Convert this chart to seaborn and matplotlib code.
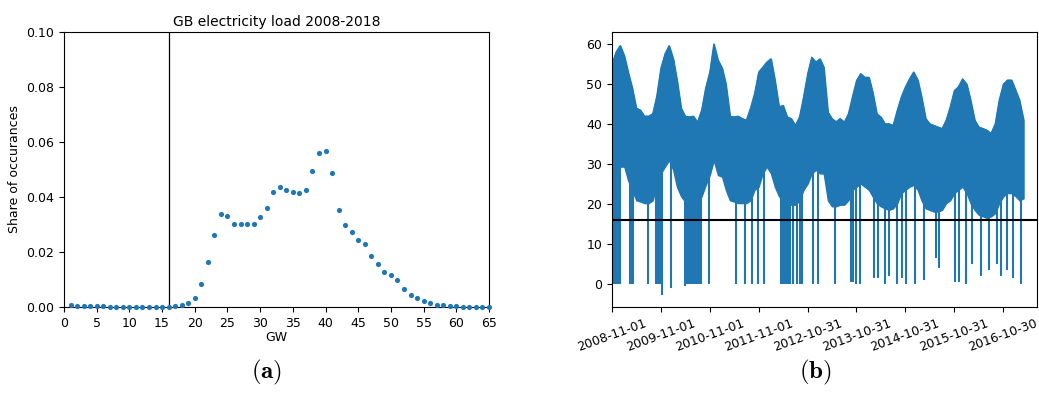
import numpy as np
import pandas as pd
import matplotlib
matplotlib.use("Agg")
import matplotlib.pyplot as plt
import seaborn as sns

# ---------------- Panel (a): distribution of load ----------------
gw = list(range(1, 66))
share = [0.0006, 0.0004, 0.0004, 0.0002, 0.0002, 0.0002, 0.0001, 0.0001, 0.0001, 0.0001,
         0.0001, 0.0001, 0.0001, 0.0001, 0.0001, 0.0001, 0.0004, 0.0006, 0.0013, 0.0034,
         0.0085, 0.0164, 0.0261, 0.0336, 0.0330, 0.0302, 0.0302, 0.0300, 0.0302, 0.0326,
         0.0359, 0.0417, 0.0435, 0.0426, 0.0418, 0.0412, 0.0426, 0.0493, 0.0559, 0.0565,
         0.0485, 0.0351, 0.0297, 0.0271, 0.0244, 0.0229, 0.0186, 0.0156, 0.0127, 0.0116,
         0.0098, 0.0065, 0.0042, 0.0033, 0.0022, 0.0016, 0.0008, 0.0007, 0.0005, 0.0002,
         0.0001, 0.0001, 0.0001, 0.0000, 0.0000]
threshold_gw = 16

# ---------------- Panel (b): load time series (monthly envelope) ----------------
series_start = "2008-11-01"
upper_gw = [55, 58, 59.6, 57, 53, 49, 44, 43.5, 42, 42, 42.6, 47,
            54, 57.5, 59.6, 56.3, 51, 44, 42, 41.8, 42, 40.5, 43.5, 49,
            53, 60, 56, 54, 50, 42, 41.8, 42, 41.4, 41, 44, 47.6,
            53, 54.2, 55.5, 56.3, 51, 44.3, 44.7, 41.8, 41.4, 39.7, 41.8, 46.8,
            52.6, 56.7, 55.5, 56.3, 54.2, 43, 41.4, 40.6, 41.4, 40.5, 42.6, 46.8,
            50.9, 52.6, 51.7, 51.7, 48, 42.6, 41.8, 40.1, 40.1, 39.7, 43.5, 46.8,
            49.3, 51.3, 53, 51, 46.8, 41.4, 40.1, 39.7, 39.3, 38.9, 41, 44.3,
            48.4, 49.3, 51.3, 50, 46, 41, 39.3, 38.9, 38.5, 37.7, 40.1, 46,
            50, 51, 51, 48.4, 46, 41]
lower_gw = [30, 29.4, 29.4, 29.4, 26, 23.6, 21, 20.7, 20.3, 20.3, 21, 25,
            27.7, 29.4, 31, 28.6, 24.4, 22, 20.7, 20.3, 19.9, 20.3, 22, 24.8,
            27.3, 31, 27.3, 26.9, 23.6, 21, 20.7, 20.3, 20.3, 20.3, 21, 23.6,
            24.4, 27.7, 29.4, 27.7, 24.4, 22, 21, 20.3, 19.9, 19.9, 21, 23.6,
            25.2, 27.7, 28.6, 27.7, 27.7, 21, 19.5, 19.5, 19.9, 19.9, 21, 23.6,
            24.4, 25.2, 24.4, 23.6, 22, 20.3, 19.5, 19, 18.6, 19, 20.3, 22.8,
            23.6, 24.4, 24.8, 23.6, 21, 19, 18.6, 18.2, 18.2, 18.6, 20.3, 21,
            22.8, 23.6, 24.4, 22.8, 20.3, 18.6, 17.4, 17, 16.6, 17, 17.8, 20.3,
            22, 22.8, 22.8, 22, 21, 21.5]
# data dropouts: days since series start, and lowest value reached
dropout_day = [12, 22, 32, 47, 57, 132, 142, 149, 157, 266, 331, 341, 356, 376, 443,
               542, 555, 567, 580, 592, 605, 617, 629, 642, 654, 667, 722,
               923, 993, 1045, 1090, 1132, 1264, 1277, 1289, 1302, 1314, 1326,
               1351, 1381, 1401, 1418, 1500, 1537, 1662, 1787, 1800, 1824, 1849,
               1953, 1985, 2035, 2065, 2130, 2167, 2197, 2262, 2327, 2416, 2441,
               2558, 2591, 2640, 2688, 2752, 2812, 2877, 2906, 2951, 2998, 3055]
dropout_min = [0, 0, 0, 0, 0, 0, 0, 8, 0, 0, 0, 0, 0, -2.7, -1,
               -0.5, 0, 0, 0, 0, 0, 0, 0, 0, 0, 0, 0,
               0, 0, 0, 0, 0, 0, 0, 0, 0, 0, 0,
               0, 0, 0, 0, 0, 0, 0, 0.5, 0.5, 0, 0,
               1.5, 1.5, 0, 2, 0, 1.5, 0, 0, 1, 6.5, 4,
               0.5, 0.5, 0, 5, 2, 3.5, 5, 2, 3.5, 1.5, 0]
threshold_load = 16
tick_labels = ["2008-11-01", "2009-11-01", "2010-11-01", "2011-11-01", "2012-10-31",
               "2013-10-31", "2014-10-31", "2015-10-31", "2016-10-30"]

blue = "#1f77b4"

fig = plt.figure(figsize=(10.39, 3.94), dpi=100)
ax1 = fig.add_axes([0.0616, 0.221, 0.409, 0.699])
ax2 = fig.add_axes([0.589, 0.221, 0.409, 0.699])

# (a)
df_a = pd.DataFrame({"GW": gw, "share": share})
sns.scatterplot(data=df_a, x="GW", y="share", ax=ax1, color=blue, s=14,
                linewidth=0, zorder=3, clip_on=False)
ax1.axvline(threshold_gw, color="black", lw=0.9)
ax1.set_xlim(0, 65)
ax1.set_ylim(0, 0.1)
ax1.set_xticks(range(0, 66, 5))
ax1.set_yticks(np.arange(0, 0.101, 0.02))
ax1.yaxis.set_major_formatter(matplotlib.ticker.FormatStrFormatter("%.2f"))
ax1.set_title("GB electricity load 2008-2018", fontsize=10, pad=4)
ax1.set_xlabel("GW", fontsize=9, labelpad=1)
ax1.set_ylabel("Share of occurances", fontsize=9)
ax1.tick_params(labelsize=9)

# (b)
start = pd.Timestamp(series_start)
dates = pd.date_range(start, periods=len(upper_gw), freq="MS")
df_b = pd.DataFrame({"date": dates, "upper": upper_gw, "lower": lower_gw})
ax2.fill_between(df_b["date"], df_b["lower"], df_b["upper"], color=blue,
                 lw=1.0, edgecolor=blue)
drop_dates = start + pd.to_timedelta(dropout_day, unit="D")
df_d = pd.DataFrame({"date": drop_dates, "min": dropout_min})
ax2.vlines(df_d["date"], df_d["min"], 34, color=blue, lw=1.5)
sns.lineplot(data=df_b, x="date", y="upper", ax=ax2, color=blue, lw=0.8)
ax2.axhline(threshold_load, color="black", lw=1.5)
ticks = [start + pd.Timedelta(days=365 * k) for k in range(len(tick_labels))]
ax2.set_xticks(ticks)
ax2.set_xticklabels(tick_labels, rotation=20, ha="center", fontsize=9)
ax2.set_xlim(start, pd.Timestamp("2017-07-10"))
ax2.set_ylim(-5.6, 63.1)
ax2.set_yticks(range(0, 61, 10))
ax2.tick_params(labelsize=9)
ax2.set_xlabel("")
ax2.set_ylabel("")

plt.rcParams["mathtext.fontset"] = "cm"
fig.text(0.257, 0.04, r"$\mathbf{(a)}$", fontsize=18, ha="center")
fig.text(0.785, 0.04, r"$\mathbf{(b)}$", fontsize=18, ha="center")

fig.savefig("out.png", dpi=100)
